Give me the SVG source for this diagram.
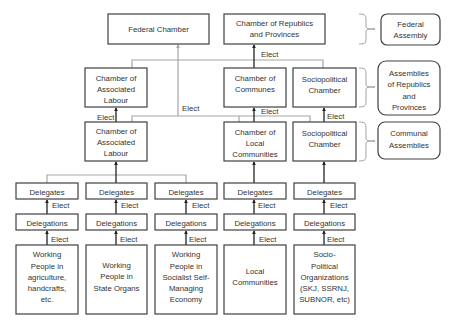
<svg xmlns="http://www.w3.org/2000/svg" width="450" height="321" viewBox="0 0 450 321">
<style>
.b{fill:#fff;stroke:#404040;stroke-width:1.2}
.r{fill:#fff;stroke:#404040;stroke-width:1.2}
.t{font-family:"Liberation Sans",Arial,sans-serif;font-size:7.8px;fill:#333;text-anchor:middle}
.e{font-family:"Liberation Sans",Arial,sans-serif;font-size:7.8px;fill:#333}
.k{stroke:#222;stroke-width:1.3;fill:none}
.g{stroke:#a6a6a6;stroke-width:1.2;fill:none}
.br{stroke:#999;stroke-width:0.9;fill:none}
</style>
<defs>
<marker id="ak" viewBox="0 0 6 6" refX="5" refY="3" markerWidth="4" markerHeight="4" orient="auto" markerUnits="userSpaceOnUse"><path d="M0,0 L6,3 L0,6 z" fill="#222"/></marker>
<marker id="ag" viewBox="0 0 6 6" refX="5" refY="3" markerWidth="4" markerHeight="4" orient="auto" markerUnits="userSpaceOnUse"><path d="M0,0 L6,3 L0,6 z" fill="#a6a6a6"/></marker>
</defs>
<rect width="450" height="321" fill="#fff"/>
<g id="connectors">
<path class="g" d="M132,68 V60 H323 V68"/>
<path class="g" d="M132,122 V116 H310 V122 M239,116 V122"/>
<path class="g" d="M178,116 V45" marker-end="url(#ag)"/>
<path class="g" d="M47,183 V175 H186 V183"/>
<path class="k" d="M254,68 V45" marker-end="url(#ak)"/>
<path class="k" d="M116,122 V108" marker-end="url(#ak)"/>
<path class="k" d="M254,122 V108" marker-end="url(#ak)"/>
<path class="k" d="M324,122 V108" marker-end="url(#ak)"/>
<path class="k" d="M116,183 V162" marker-end="url(#ak)"/>
<path class="k" d="M254,183 V162" marker-end="url(#ak)"/>
<path class="k" d="M324,183 V162" marker-end="url(#ak)"/>
<path class="k" d="M47,214 V200" marker-end="url(#ak)"/>
<path class="k" d="M116,214 V200" marker-end="url(#ak)"/>
<path class="k" d="M186,214 V200" marker-end="url(#ak)"/>
<path class="k" d="M254,214 V200" marker-end="url(#ak)"/>
<path class="k" d="M324,214 V200" marker-end="url(#ak)"/>
<path class="k" d="M47,245 V231" marker-end="url(#ak)"/>
<path class="k" d="M116,245 V231" marker-end="url(#ak)"/>
<path class="k" d="M186,245 V231" marker-end="url(#ak)"/>
<path class="k" d="M254,245 V231" marker-end="url(#ak)"/>
<path class="k" d="M324,245 V231" marker-end="url(#ak)"/>
<text class="e" x="261" y="57">Elect</text>
<text class="e" x="182" y="111">Elect</text>
<text class="e" x="97" y="120">Elect</text>
<text class="e" x="261" y="114">Elect</text>
<text class="e" x="327" y="119">Elect</text>
<text class="e" x="52" y="208">Elect</text>
<text class="e" x="121" y="208">Elect</text>
<text class="e" x="192" y="208">Elect</text>
<text class="e" x="258" y="208">Elect</text>
<text class="e" x="330" y="208">Elect</text>
<text class="e" x="51" y="242">Elect</text>
<text class="e" x="120" y="242">Elect</text>
<text class="e" x="189" y="242">Elect</text>
<text class="e" x="259" y="242">Elect</text>
<text class="e" x="327" y="242">Elect</text>
</g>
<g id="braces">
<path class="br" d="M359,14 C366,14 366,16 366,21 L366,26 C366,29 368,29 375,29 C368,29 366,29 366,32 L366,38 C366,43 366,44 359,44"/>
<path class="br" d="M359,68 C366,68 366,70 366,75 L366,84 C366,87 368,87 375,87 C368,87 366,87 366,90 L366,100 C366,105 366,107 359,107"/>
<path class="br" d="M359,122 C366,122 366,124 366,129 L366,138 C366,141 368,141 375,141 C368,141 366,141 366,144 L366,154 C366,159 366,161 359,161"/>
</g>
<g id="federal-chamber"><rect class="b" x="108" y="14" width="101" height="30"/><text class="t" x="158.5" y="32">Federal Chamber</text></g>
<g id="chamber-republics"><rect class="b" x="224" y="14" width="101" height="30"/><text class="t" x="274.5" y="26">Chamber of Republics</text><text class="t" x="274.5" y="37">and Provinces</text></g>
<g id="federal-assembly"><rect class="r" x="381" y="14" width="59" height="31" rx="6"/><text class="t" x="410.5" y="27">Federal</text><text class="t" x="410.5" y="38">Assembly</text></g>
<g id="cal-upper"><rect class="b" x="85" y="68" width="62" height="39"/><text class="t" x="116" y="81">Chamber of</text><text class="t" x="116" y="92">Associated</text><text class="t" x="116" y="103">Labour</text></g>
<g id="chamber-communes"><rect class="b" x="224" y="68" width="62" height="39"/><text class="t" x="255" y="81">Chamber of</text><text class="t" x="255" y="92">Communes</text></g>
<g id="sociopolitical-upper"><rect class="b" x="293" y="68" width="63" height="39"/><text class="t" x="324.5" y="82">Sociopolitical</text><text class="t" x="324.5" y="93">Chamber</text></g>
<g id="assemblies-republics"><rect class="r" x="378" y="61" width="62" height="54" rx="8"/><text class="t" x="409" y="76">Assemblies</text><text class="t" x="409" y="87">of Republics</text><text class="t" x="409" y="99">and</text><text class="t" x="409" y="110">Provinces</text></g>
<g id="cal-lower"><rect class="b" x="85" y="122" width="62" height="39"/><text class="t" x="116" y="134">Chamber of</text><text class="t" x="116" y="145">Associated</text><text class="t" x="116" y="156">Labour</text></g>
<g id="chamber-local"><rect class="b" x="224" y="122" width="62" height="39"/><text class="t" x="255" y="135">Chamber of</text><text class="t" x="255" y="146">Local</text><text class="t" x="255" y="157">Communities</text></g>
<g id="sociopolitical-lower"><rect class="b" x="293" y="122" width="63" height="39"/><text class="t" x="324.5" y="136">Sociopolitical</text><text class="t" x="324.5" y="147">Chamber</text></g>
<g id="communal-assemblies"><rect class="r" x="378" y="122" width="62" height="37" rx="7"/><text class="t" x="409" y="136">Communal</text><text class="t" x="409" y="148">Assemblies</text></g>
<g id="delegates-1"><rect class="b" x="16" y="183" width="62" height="16"/><text class="t" x="47" y="194.5">Delegates</text></g>
<g id="delegates-2"><rect class="b" x="86" y="183" width="61" height="16"/><text class="t" x="116.5" y="194.5">Delegates</text></g>
<g id="delegates-3"><rect class="b" x="155" y="183" width="62" height="16"/><text class="t" x="186" y="194.5">Delegates</text></g>
<g id="delegates-4"><rect class="b" x="224" y="183" width="62" height="16"/><text class="t" x="255" y="194.5">Delegates</text></g>
<g id="delegates-5"><rect class="b" x="294" y="183" width="61" height="16"/><text class="t" x="324.5" y="194.5">Delegates</text></g>
<g id="delegations-1"><rect class="b" x="16" y="214" width="62" height="16"/><text class="t" x="47" y="225.5">Delegations</text></g>
<g id="delegations-2"><rect class="b" x="86" y="214" width="61" height="16"/><text class="t" x="116.5" y="225.5">Delegations</text></g>
<g id="delegations-3"><rect class="b" x="155" y="214" width="62" height="16"/><text class="t" x="186" y="225.5">Delegations</text></g>
<g id="delegations-4"><rect class="b" x="224" y="214" width="62" height="16"/><text class="t" x="255" y="225.5">Delegations</text></g>
<g id="delegations-5"><rect class="b" x="294" y="214" width="61" height="16"/><text class="t" x="324.5" y="225.5">Delegations</text></g>
<g id="working-agriculture"><rect class="b" x="16" y="245" width="62" height="69"/><text class="t" x="47" y="257">Working</text><text class="t" x="47" y="268.5">People in</text><text class="t" x="47" y="280">agriculture,</text><text class="t" x="47" y="291">handcrafts,</text><text class="t" x="47" y="302">etc.</text></g>
<g id="working-state"><rect class="b" x="86" y="245" width="61" height="69"/><text class="t" x="116.5" y="268">Working</text><text class="t" x="116.5" y="279">People in</text><text class="t" x="116.5" y="291">State Organs</text></g>
<g id="working-economy"><rect class="b" x="155" y="245" width="62" height="69"/><text class="t" x="186" y="257">Working</text><text class="t" x="186" y="268.5">People in</text><text class="t" x="186" y="280">Socialist Self-</text><text class="t" x="186" y="291">Managing</text><text class="t" x="186" y="302">Economy</text></g>
<g id="local-communities"><rect class="b" x="224" y="245" width="62" height="69"/><text class="t" x="255" y="274">Local</text><text class="t" x="255" y="285">Communities</text></g>
<g id="sociopolitical-orgs"><rect class="b" x="294" y="245" width="61" height="69"/><text class="t" x="324.5" y="257">Socio-</text><text class="t" x="324.5" y="268.5">Political</text><text class="t" x="324.5" y="280">Organizations</text><text class="t" x="324.5" y="291">(SKJ, SSRNJ,</text><text class="t" x="324.5" y="302">SUBNOR, etc)</text></g>
</svg>
